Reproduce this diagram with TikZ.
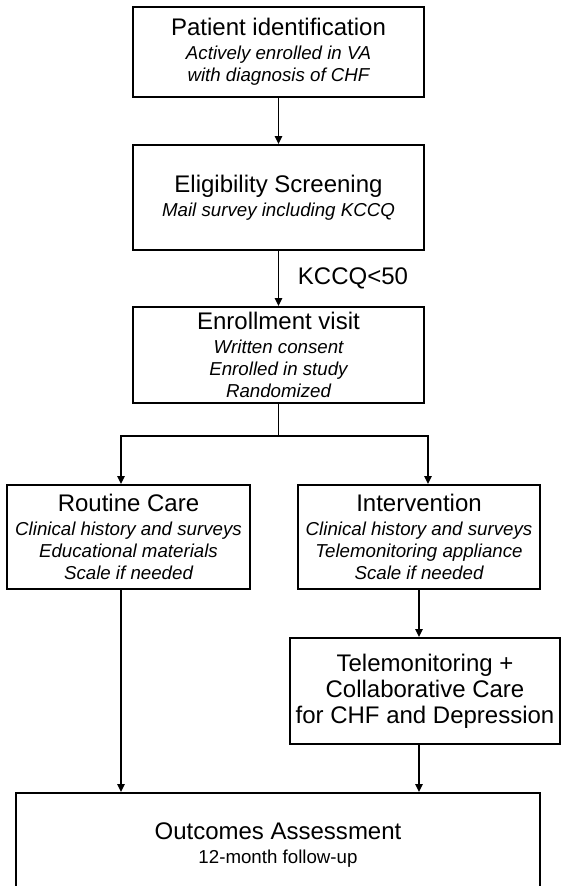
\documentclass[tikz,border=0pt]{standalone}
\usepackage{fontspec}
\setmainfont{Liberation Sans}
\usetikzlibrary{arrows.meta}
\newcommand{\hd}[1]{{\upshape\fontsize{12}{14}\selectfont #1}}

\begin{document}
\begin{tikzpicture}[
  x=0.5pt, y=-0.5pt,
  font=\fontsize{9.35}{11}\selectfont\itshape,
  box/.style={draw, line width=0.9pt, inner sep=0pt, align=center},
  big/.style={box, font=\fontsize{12}{13}\selectfont\upshape},
  arr/.style={-{Triangle[length=4pt,width=3.6pt]}, line width=0.8pt},
  ln/.style={line width=0.8pt}
]
\useasboundingbox (0,0) rectangle (562,886);

\node[box, minimum width=145.5pt, minimum height=45pt] (pid) at (278.5,52)
  {\hd{Patient identification}\\[1pt]
   Actively enrolled in VA\\with diagnosis of CHF};
\node[box, minimum width=145.5pt, minimum height=52.5pt] (elig) at (278.5,197.5)
  {\hd{Eligibility Screening}\\[1pt]Mail survey including KCCQ};
\node[box, minimum width=145.5pt, minimum height=48pt] (enrol) at (278.5,355)
  {\hd{Enrollment visit}\\[1pt]
   Written consent\\Enrolled in study\\Randomized};

\node[box, minimum width=121.5pt, minimum height=52pt] (routine) at (128.5,537)
  {\hd{Routine Care}\\[1pt]
   Clinical history and surveys\\Educational materials\\Scale if needed};
\node[box, minimum width=121pt, minimum height=52pt] (interv) at (419,537)
  {\hd{Intervention}\\[1pt]
   Clinical history and surveys\\Telemonitoring appliance\\Scale if needed};

\node[big, minimum width=135pt, minimum height=53pt] (telemon) at (425,691)
  {Telemonitoring +\\Collaborative Care\\for CHF and Depression};

\node[box, minimum width=262pt, minimum height=52pt] (outc) at (278,845)
  {\hd{Outcomes Assessment}\\[1pt]\upshape 12-month follow-up};

\coordinate (split) at (278.5,436);

\draw[arr] (pid) -- (elig);
\draw[arr] (elig) -- node[right=6pt, font=\fontsize{12}{14}\selectfont\upshape]
  {KCCQ<50} (enrol);
\draw[ln] (enrol) -- (split);
\draw[arr] (split) -| ([xshift=-3.75pt]routine.north);
\draw[arr] (split) -| ([xshift=4.5pt]interv.north);

\draw[arr] ([xshift=-3.75pt]routine.south)
  -- ([xshift=-3.75pt]routine.south |- outc.north);
\draw[arr] (interv.south) -- (interv.south |- telemon.north);
\draw[arr] (telemon.south -| interv.south) -- (interv.south |- outc.north);

\end{tikzpicture}
\end{document}
